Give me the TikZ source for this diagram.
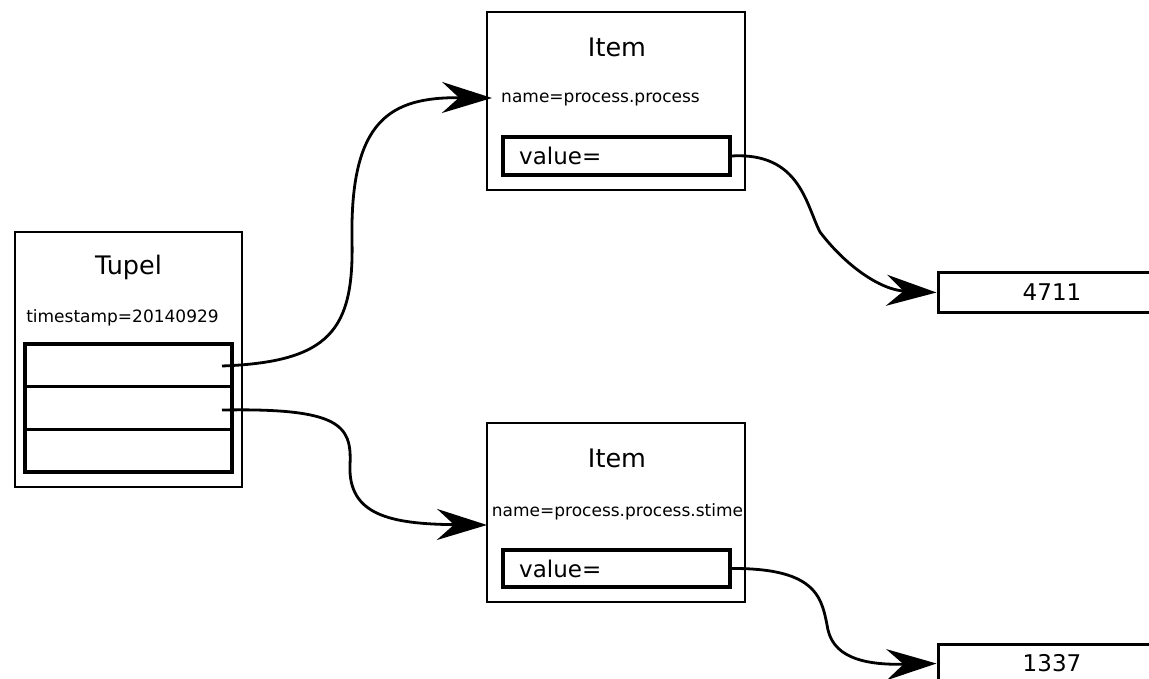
\documentclass[tikz,border=0pt]{standalone}
\usepackage{fontspec}
\setmainfont{DejaVu Sans}
\usetikzlibrary{arrows.meta}
\begin{document}
\begin{tikzpicture}[x=1pt,y=-1pt,
  outerbox/.style={draw=black,line width=2.4pt,inner sep=0pt,minimum width=258pt,minimum height=178pt},
  slotbox/.style={draw=black,line width=3.2pt,inner sep=0pt,minimum width=207pt,minimum height=42.7pt},
  valbox/.style={draw=black,line width=3.2pt,inner sep=0pt,minimum width=227pt,minimum height=38pt},
  numbox/.style={draw=black,line width=3pt,inner sep=0pt,minimum width=228pt,minimum height=39pt,font=\fontsize{23}{27}\selectfont},
  bigtext/.style={inner sep=0pt,font=\fontsize{25.5}{30}\selectfont},
  smalltext/.style={inner sep=0pt,font=\fontsize{17}{20}\selectfont},
  valtext/.style={inner sep=0pt,anchor=west,font=\fontsize{23}{27}\selectfont},
  conn/.style={line width=2.8pt,-{Stealth[length=50pt,width=31pt,inset=17pt]}}]
\useasboundingbox (0,0) rectangle (1149,679);
\clip (0,0) rectangle (1149,679);
% Tupel
\node[outerbox,minimum width=227pt,minimum height=255pt] (tupel) at (128.5,359.5) {};
\node[bigtext] (tupeltitle) at (128.5,267) {Tupel};
\node[smalltext] (ts) at (122.5,318) {timestamp=20140929};
\node[slotbox] (slot1) at (128.5,365.3) {};
\node[slotbox] (slot2) at (128.5,408) {};
\node[slotbox] (slot3) at (128.5,450.7) {};
\coordinate (s1) at (222,366);
\coordinate (s2) at (222,410);
% Item 1
\node[outerbox] (item1) at (616,101) {};
\node[bigtext] (item1title) at (617,47) {Item};
\node[smalltext] (name1) at (600.5,100) {name=process.process};
\node[valbox] (val1) at (616.5,156) {};
\node[valtext] (val1text) at (519,156) {value=};
% Item 2
\node[outerbox,minimum height=179pt] (item2) at (616,512.5) {};
\node[bigtext] (item2title) at (617,458) {Item};
\node[smalltext] (name2) at (617.5,512) {name=process.process.stime};
\node[valbox,minimum height=37pt] (val2) at (616.5,568.5) {};
\node[valtext] (val2text) at (519,568.5) {value=};
% value boxes
\node[numbox] (n4711) at (1052,292.5) {4711};
\node[numbox] (n1337) at (1052,663.5) {1337};
\coordinate (t1) at (492,98);
\coordinate (t2) at (487,525);
% connectors
\draw[conn] (s1) .. controls (330,362) and (354,330) .. (352,240)
  .. controls (350,120) and (390,97) .. (t1);
\draw[conn] (s2) .. controls (340,408) and (352,425) .. (350,465)
  .. controls (348,515) and (390,524) .. (t2);
\draw[conn] (val1.east) .. controls (800,152) and (806,205) .. (820,232)
  .. controls (845,265) and (880,290) .. (n4711.west);
\draw[conn] (val2.east) .. controls (820,568) and (822,600) .. (828,630)
  .. controls (835,660) and (870,665) .. (n1337.west);
\end{tikzpicture}
\end{document}
